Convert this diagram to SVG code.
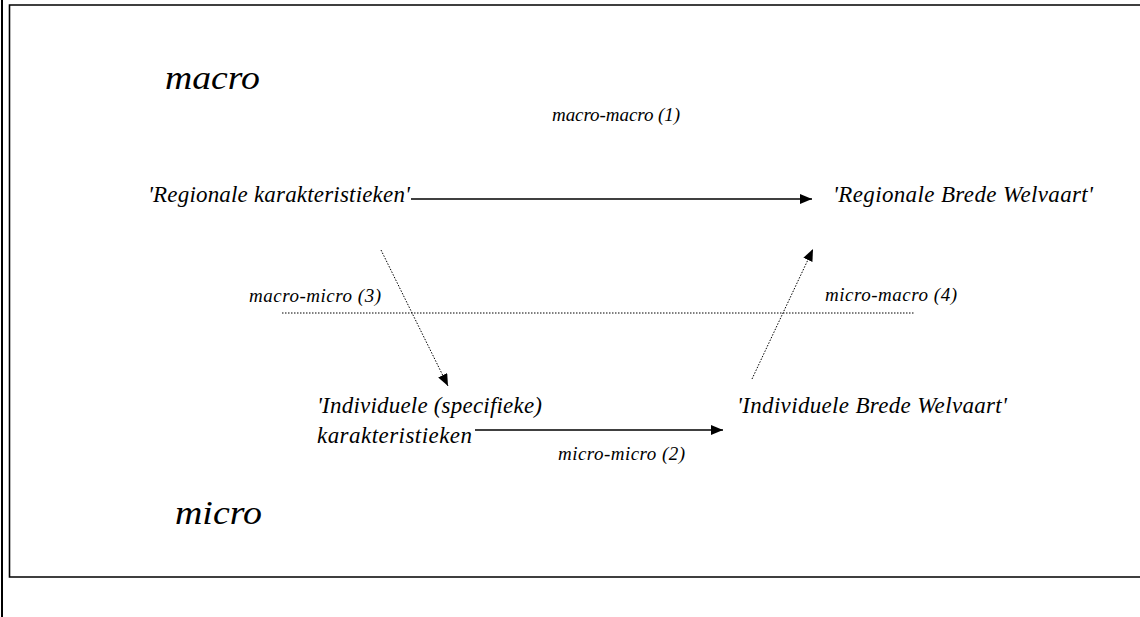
<svg xmlns="http://www.w3.org/2000/svg" width="1140" height="617" viewBox="0 0 1140 617">
<style>
text{font-family:"Liberation Serif","Times New Roman",serif;font-style:italic;fill:#000}
.big{font-size:33px}
.lbl{font-size:23px}
.sm{font-size:19px}
.solid{stroke:#000;stroke-width:1.5;fill:none}
.dot{stroke:#000;stroke-width:1;stroke-dasharray:1.5 1.5;fill:none}
</style>
<defs>
<marker id="ah" viewBox="0 0 12 10" refX="12" refY="5" markerWidth="12" markerHeight="10" markerUnits="userSpaceOnUse" orient="auto">
<path d="M0,0 L12,5 L0,10 z" fill="#000"/>
</marker>
</defs>
<rect width="1140" height="617" fill="#fff"/>
<line x1="2" y1="0" x2="2" y2="617" stroke="#000" stroke-width="2"/>
<path d="M1141,5 H9.5 V577 H1141" fill="none" stroke="#000" stroke-width="1.6"/>
<g id="level-macro"><text class="big" x="165" y="89" textLength="95" lengthAdjust="spacingAndGlyphs">macro</text></g>
<g id="level-micro"><text class="big" x="175" y="524" textLength="87" lengthAdjust="spacingAndGlyphs">micro</text></g>
<g id="node-regional-char"><text class="lbl" x="148" y="202" textLength="262">'Regionale karakteristieken'</text></g>
<g id="node-regional-bw"><text class="lbl" x="833" y="202" textLength="260">'Regionale Brede Welvaart'</text></g>
<g id="node-individual-char"><text class="lbl" x="317" y="413" textLength="225">'Individuele (specifieke)</text><text class="lbl" x="317" y="443" textLength="155">karakteristieken</text></g>
<g id="node-individual-bw"><text class="lbl" x="737" y="413" textLength="270">'Individuele Brede Welvaart'</text></g>
<g id="connectors">
<line class="solid" x1="411" y1="199" x2="812" y2="199" marker-end="url(#ah)"/>
<line class="solid" x1="475" y1="430" x2="723" y2="430" marker-end="url(#ah)"/>
<line class="dot" x1="381" y1="250" x2="448" y2="386" marker-end="url(#ah)"/>
<line class="dot" x1="752" y1="379" x2="813" y2="249" marker-end="url(#ah)"/>
<line class="dot" x1="282" y1="313" x2="915" y2="313"/>
</g>
<g id="labels">
<text class="sm" x="552" y="121" textLength="128">macro-macro (1)</text>
<text class="sm" x="249" y="302" textLength="132">macro-micro (3)</text>
<text class="sm" x="825" y="301" textLength="132">micro-macro (4)</text>
<text class="sm" x="558" y="460" textLength="127">micro-micro (2)</text>
</g>
</svg>
